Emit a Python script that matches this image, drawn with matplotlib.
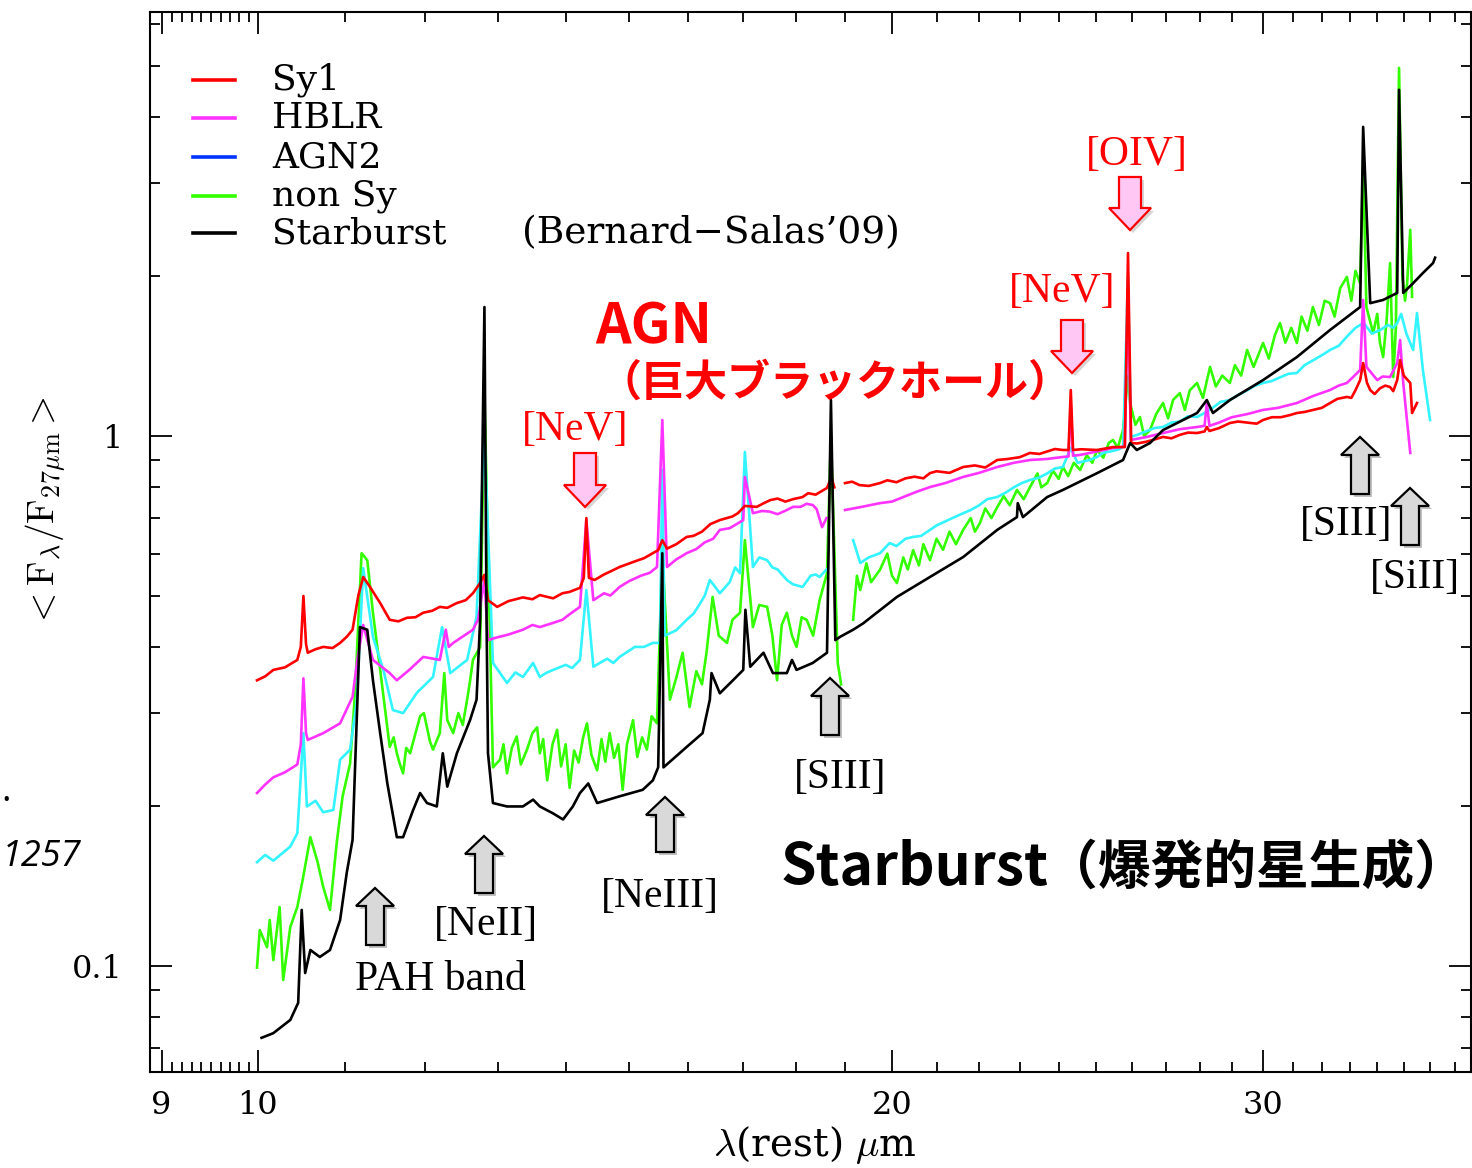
import numpy as np
import matplotlib
matplotlib.use("Agg")
import matplotlib.pyplot as plt
from matplotlib.lines import Line2D
from matplotlib.patches import Polygon
from matplotlib.ticker import FixedLocator, FixedFormatter, NullFormatter

plt.rcParams['mathtext.fontset'] = 'cm'

# ---------------- data (wavelength in micron, <F_lambda/F_27um>) ----------------
nan = float('nan')

sy1 = [(9.99, 0.346), (10.08, 0.352), (10.17, 0.362), (10.30, 0.366), (10.44, 0.378), (10.48, 0.400),
       (10.51, 0.499), (10.54, 0.405), (10.56, 0.390), (10.65, 0.396), (10.74, 0.400), (10.85, 0.398),
       (10.94, 0.407), (11.02, 0.418), (11.09, 0.431), (11.16, 0.500), (11.22, 0.542), (11.30, 0.520),
       (11.43, 0.484), (11.55, 0.450), (11.66, 0.447), (11.77, 0.454), (11.88, 0.455), (11.98, 0.464),
       (12.10, 0.468), (12.20, 0.476), (12.30, 0.474), (12.43, 0.484), (12.55, 0.490), (12.65, 0.505),
       (12.75, 0.528), (12.81, 0.547), (12.86, 0.490), (12.99, 0.476), (13.15, 0.488), (13.36, 0.496),
       (13.50, 0.492), (13.61, 0.501), (13.81, 0.494), (13.95, 0.505), (14.06, 0.508), (14.22, 0.517),
       (14.28, 0.540), (14.32, 0.700), (14.36, 0.540), (14.45, 0.535), (14.60, 0.548), (14.70, 0.555),
       (14.85, 0.566), (15.10, 0.580), (15.25, 0.588), (15.40, 0.601), (15.49, 0.609), (15.56, 0.636),
       (15.64, 0.613), (15.80, 0.625), (15.98, 0.645), (16.10, 0.648), (16.25, 0.660), (16.40, 0.682),
       (16.57, 0.694), (16.80, 0.705), (16.90, 0.715), (17.03, 0.738), (17.25, 0.735), (17.40, 0.748),
       (17.51, 0.757), (17.65, 0.762), (17.80, 0.752), (17.95, 0.760), (18.14, 0.767), (18.25, 0.780),
       (18.40, 0.775), (18.50, 0.785), (18.63, 0.798), (18.72, 0.836), (18.78, 0.800), (18.88, nan),
       (19.00, 0.815), (19.15, 0.820), (19.30, 0.808), (19.50, 0.805), (19.74, 0.815), (19.90, 0.825),
       (20.10, 0.818), (20.30, 0.832), (20.50, 0.838), (20.70, 0.832), (20.85, 0.851), (21.00, 0.858),
       (21.30, 0.852), (21.62, 0.874), (21.90, 0.880), (22.15, 0.872), (22.44, 0.901), (22.70, 0.905),
       (23.00, 0.912), (23.26, 0.929), (23.50, 0.925), (23.70, 0.935), (23.90, 0.945), (24.11, 0.941),
       (24.26, 0.941), (24.32, 1.221), (24.38, 0.941), (24.60, 0.944), (25.03, 0.941), (25.47, 0.953),
       (25.80, 0.953), (25.89, 2.214), (25.98, 0.970), (26.15, 0.968), (26.40, 0.975), (26.65, 0.985),
       (26.90, 0.996), (27.15, 0.990), (27.40, 1.005), (27.65, 1.015), (27.92, 1.013), (28.15, 1.020),
       (28.22, 1.040), (28.30, 1.022), (28.60, 1.035), (28.94, 1.058), (29.20, 1.065), (29.50, 1.060),
       (29.80, 1.055), (30.01, 1.072), (30.30, 1.085), (30.60, 1.085), (30.90, 1.095), (31.14, 1.105),
       (31.40, 1.110), (31.70, 1.120), (32.00, 1.130), (32.29, 1.154), (32.55, 1.175), (32.89, 1.185),
       (33.05, 1.180), (33.20, 1.220), (33.37, 1.275), (33.48, 1.373), (33.62, 1.260), (33.74, 1.221),
       (33.90, 1.200), (34.10, 1.230), (34.30, 1.245), (34.48, 1.237), (34.60, 1.215), (34.75, 1.275),
       (34.86, 1.390), (35.00, 1.300), (35.25, 1.259), (35.32, 1.105), (35.51, 1.154)]

hblr = [(9.99, 0.212), (10.08, 0.220), (10.17, 0.227), (10.30, 0.232), (10.44, 0.240), (10.48, 0.262),
        (10.51, 0.349), (10.54, 0.275), (10.56, 0.267), (10.74, 0.275), (10.94, 0.287), (11.09, 0.322),
        (11.15, 0.380), (11.22, 0.440), (11.34, 0.378), (11.55, 0.357), (11.64, 0.346), (11.80, 0.362),
        (11.98, 0.383), (12.20, 0.378), (12.28, 0.431), (12.32, 0.400), (12.38, 0.407), (12.65, 0.431),
        (12.72, 0.450), (12.81, 0.535), (12.86, 0.412), (12.99, 0.417), (13.15, 0.422), (13.36, 0.431),
        (13.50, 0.440), (13.61, 0.436), (13.81, 0.444), (13.95, 0.450), (14.05, 0.460), (14.22, 0.476),
        (14.32, 0.694), (14.43, 0.490), (14.60, 0.505), (14.70, 0.500), (14.85, 0.519), (15.00, 0.532),
        (15.20, 0.545), (15.35, 0.552), (15.47, 0.566), (15.56, 1.072), (15.64, 0.566), (15.80, 0.585),
        (15.98, 0.601), (16.15, 0.612), (16.30, 0.630), (16.45, 0.640), (16.57, 0.665), (16.75, 0.670),
        (17.00, 0.694), (17.03, 0.837), (17.18, 0.715), (17.35, 0.722), (17.50, 0.720), (17.65, 0.712),
        (17.83, 0.725), (17.95, 0.735), (18.10, 0.735), (18.22, 0.745), (18.34, 0.741), (18.42, 0.728),
        (18.53, 0.673), (18.62, 0.700), (18.88, nan), (19.00, 0.725), (19.35, 0.735), (19.74, 0.747),
        (20.00, 0.752), (20.30, 0.770), (20.55, 0.785), (20.85, 0.801), (21.20, 0.815), (21.62, 0.837),
        (22.00, 0.852), (22.44, 0.874), (22.85, 0.890), (23.26, 0.901), (23.70, 0.905), (24.11, 0.913),
        (24.26, 0.915), (24.32, 1.150), (24.38, 0.918), (24.57, 0.921), (25.47, 0.949), (25.80, 0.955),
        (25.89, 1.910), (25.97, 0.983), (26.40, 0.995), (26.90, 1.013), (27.40, 1.030), (27.92, 1.040),
        (28.15, 1.045), (28.22, 1.154), (28.30, 1.045), (28.60, 1.060), (29.00, 1.085), (29.50, 1.100),
        (30.01, 1.120), (30.50, 1.130), (31.14, 1.154), (31.70, 1.190), (32.29, 1.221), (32.60, 1.245),
        (32.89, 1.259), (33.10, 1.290), (33.37, 1.332), (33.48, 1.806), (33.60, 1.350), (34.00, 1.275),
        (34.20, 1.295), (34.48, 1.292), (34.75, 1.373), (34.86, 1.517), (34.98, 1.259), (35.25, 0.929)]

agn2 = [(9.99, 0.157), (10.08, 0.162), (10.17, 0.158), (10.36, 0.168), (10.44, 0.178), (10.51, 0.275),
        (10.55, 0.200), (10.65, 0.205), (10.74, 0.195), (10.86, 0.197), (10.94, 0.245), (11.06, 0.256),
        (11.14, 0.314), (11.22, 0.563), (11.34, 0.418), (11.47, 0.362), (11.59, 0.304), (11.72, 0.300),
        (11.90, 0.328), (12.11, 0.351), (12.23, 0.436), (12.34, 0.357), (12.57, 0.378), (12.70, 0.456),
        (12.81, 1.000), (12.93, 0.373), (13.13, 0.342), (13.25, 0.358), (13.36, 0.351), (13.51, 0.373),
        (13.61, 0.351), (13.70, 0.357), (13.81, 0.362), (14.00, 0.370), (14.10, 0.365), (14.22, 0.378),
        (14.32, 0.512), (14.43, 0.367), (14.65, 0.380), (14.75, 0.373), (14.85, 0.383), (15.10, 0.400),
        (15.25, 0.400), (15.40, 0.407), (15.52, 0.407), (15.56, 0.863), (15.60, 0.420), (15.80, 0.430),
        (15.98, 0.450), (16.10, 0.462), (16.20, 0.480), (16.30, 0.500), (16.39, 0.535), (16.48, 0.520),
        (16.57, 0.505), (16.75, 0.530), (16.85, 0.565), (16.94, 0.551), (17.03, 0.933), (17.18, 0.566),
        (17.30, 0.590), (17.45, 0.583), (17.55, 0.565), (17.65, 0.560), (17.83, 0.535), (17.95, 0.525),
        (18.14, 0.519), (18.30, 0.545), (18.40, 0.548), (18.48, 0.542), (18.62, 0.560), (18.88, nan),
        (19.17, 0.636), (19.32, 0.576), (19.50, 0.590), (19.74, 0.601), (19.95, 0.628), (20.10, 0.620),
        (20.30, 0.640), (20.47, 0.645), (20.65, 0.648), (20.85, 0.665), (21.00, 0.678), (21.20, 0.690),
        (21.40, 0.702), (21.62, 0.715), (21.80, 0.725), (22.00, 0.740), (22.20, 0.760), (22.44, 0.767),
        (22.65, 0.782), (22.85, 0.800), (23.05, 0.815), (23.26, 0.826), (23.50, 0.835), (23.70, 0.850),
        (23.90, 0.868), (24.11, 0.874), (24.32, 0.950), (24.50, 0.890), (24.80, 0.900), (25.03, 0.913),
        (25.20, 0.930), (25.40, 0.935), (25.60, 0.942), (25.75, 0.953), (25.89, 1.996), (25.97, 0.996),
        (26.15, 1.005), (26.40, 1.020), (26.65, 1.035), (26.90, 1.040), (27.15, 1.060), (27.40, 1.065),
        (27.65, 1.090), (27.92, 1.086), (28.15, 1.105), (28.40, 1.130), (28.65, 1.160), (28.94, 1.169),
        (29.20, 1.195), (29.50, 1.220), (29.75, 1.245), (30.01, 1.259), (30.30, 1.270), (30.57, 1.290),
        (30.85, 1.310), (31.14, 1.315), (31.40, 1.360), (31.70, 1.390), (32.00, 1.420), (32.29, 1.453),
        (32.60, 1.480), (32.89, 1.540), (33.20, 1.600), (33.50, 1.634), (33.80, 1.560), (34.11, 1.585),
        (34.40, 1.620), (34.60, 1.600), (34.75, 1.634), (34.90, 1.700), (35.10, 1.560), (35.36, 1.453),
        (35.51, 1.706), (35.74, 1.332), (36.02, 1.072)]

nonsy = [(9.99, 0.0993), (10.02, 0.1169), (10.10, 0.1085), (10.13, 0.1221), (10.17, 0.1026),
         (10.24, 0.1292), (10.28, 0.0941), (10.36, 0.1184), (10.44, 0.1292), (10.50, 0.145),
         (10.59, 0.175), (10.67, 0.158), (10.74, 0.141), (10.82, 0.1276), (10.90, 0.171), (10.97, 0.209),
         (11.06, 0.241), (11.12, 0.327), (11.20, 0.601), (11.27, 0.583), (11.34, 0.464), (11.43, 0.362),
         (11.55, 0.259), (11.60, 0.270), (11.64, 0.252), (11.68, 0.240), (11.72, 0.231), (11.76, 0.258),
         (11.81, 0.252), (11.88, 0.275), (11.94, 0.296), (11.99, 0.300), (12.03, 0.282), (12.07, 0.265),
         (12.11, 0.256), (12.20, 0.275), (12.26, 0.357), (12.30, 0.291), (12.38, 0.275), (12.45, 0.300),
         (12.51, 0.285), (12.57, 0.318), (12.61, 0.345), (12.65, 0.378), (12.75, 0.400), (12.81, 1.200),
         (12.93, 0.237), (13.03, 0.245), (13.08, 0.262), (13.13, 0.231), (13.20, 0.258), (13.27, 0.271),
         (13.33, 0.240), (13.42, 0.256), (13.50, 0.275), (13.57, 0.282), (13.61, 0.252), (13.66, 0.268),
         (13.72, 0.224), (13.80, 0.262), (13.87, 0.279), (13.93, 0.238), (14.00, 0.262), (14.06, 0.217),
         (14.13, 0.255), (14.20, 0.242), (14.27, 0.270), (14.33, 0.287), (14.40, 0.250), (14.49, 0.234),
         (14.56, 0.268), (14.62, 0.243), (14.69, 0.275), (14.76, 0.247), (14.83, 0.262), (14.90, 0.215),
         (14.97, 0.262), (15.07, 0.291), (15.14, 0.248), (15.22, 0.270), (15.30, 0.256), (15.38, 0.296),
         (15.47, 0.287), (15.56, 0.600), (15.69, 0.318), (15.80, 0.350), (15.91, 0.390), (16.03, 0.308),
         (16.15, 0.360), (16.25, 0.340), (16.33, 0.390), (16.44, 0.497), (16.55, 0.420), (16.70, 0.407),
         (16.80, 0.450), (16.94, 0.464), (17.03, 0.636), (17.18, 0.436), (17.30, 0.480), (17.45, 0.476),
         (17.55, 0.420), (17.64, 0.346), (17.73, 0.440), (17.83, 0.464), (17.93, 0.420), (18.02, 0.400),
         (18.12, 0.455), (18.22, 0.450), (18.35, 0.420), (18.48, 0.490), (18.63, 0.551), (18.71, 1.000),
         (18.85, 0.373), (18.92, 0.340), (19.05, nan), (19.17, 0.450), (19.25, 0.545), (19.32, 0.512),
         (19.45, 0.575), (19.55, 0.530), (19.74, 0.559), (19.90, 0.600), (20.00, 0.545), (20.11, 0.528),
         (20.25, 0.590), (20.35, 0.560), (20.47, 0.609), (20.60, 0.570), (20.70, 0.625), (20.85, 0.583),
         (21.00, 0.640), (21.15, 0.610), (21.30, 0.660), (21.45, 0.625), (21.62, 0.665), (21.80, 0.700),
         (21.90, 0.660), (22.02, 0.685), (22.15, 0.730), (22.30, 0.700), (22.44, 0.734), (22.60, 0.770),
         (22.75, 0.740), (22.93, 0.791), (23.10, 0.760), (23.26, 0.801), (23.45, 0.850), (23.55, 0.800),
         (23.70, 0.815), (23.85, 0.860), (24.00, 0.830), (24.11, 0.874), (24.25, 0.840), (24.40, 0.890),
         (24.57, 0.863), (24.75, 0.920), (24.90, 0.890), (25.03, 0.941), (25.20, 0.910), (25.35, 0.970),
         (25.47, 0.983), (25.60, 0.950), (25.75, 1.026), (25.89, 1.300), (25.95, 1.154), (26.10, 1.050),
         (26.23, 1.086), (26.35, 1.000), (26.52, 1.026), (26.70, 1.100), (26.90, 1.154), (27.05, 1.080),
         (27.20, 1.170), (27.40, 1.205), (27.55, 1.120), (27.70, 1.220), (27.92, 1.259), (28.10, 1.180),
         (28.32, 1.350), (28.50, 1.240), (28.70, 1.300), (28.94, 1.259), (29.10, 1.360), (29.30, 1.300),
         (29.49, 1.453), (29.70, 1.350), (29.85, 1.420), (30.01, 1.498), (30.20, 1.400), (30.40, 1.550),
         (30.57, 1.634), (30.75, 1.500), (30.95, 1.600), (31.14, 1.498), (31.30, 1.680), (31.50, 1.580),
         (31.69, 1.751), (31.90, 1.620), (32.10, 1.800), (32.29, 1.781), (32.45, 1.680), (32.65, 1.900),
         (32.89, 1.996), (33.05, 1.800), (33.20, 2.050), (33.37, 1.942), (33.48, 3.300), (33.60, 1.750),
         (33.85, 1.564), (34.00, 1.700), (34.10, 1.500), (34.22, 1.409), (34.35, 1.650), (34.48, 2.120),
         (34.60, 1.292), (34.70, 1.600), (34.82, 4.950), (34.95, 2.000), (35.05, 1.800), (35.13, 1.942),
         (35.25, 2.450), (35.32, 1.830)]

starburst = [(10.04, 0.0732), (10.17, 0.0747), (10.36, 0.0791), (10.45, 0.0852), (10.49, 0.1276),
             (10.53, 0.0970), (10.59, 0.1072), (10.70, 0.1040), (10.82, 0.1072), (10.94, 0.1221),
             (11.02, 0.150), (11.09, 0.173), (11.18, 0.436), (11.27, 0.431), (11.34, 0.346), (11.43, 0.275),
             (11.52, 0.221), (11.64, 0.175), (11.72, 0.175), (11.85, 0.197), (11.94, 0.212), (12.03, 0.203),
             (12.16, 0.200), (12.24, 0.252), (12.30, 0.218), (12.43, 0.252), (12.61, 0.291), (12.70, 0.318),
             (12.75, 0.450), (12.81, 1.751), (12.84, 0.450), (12.86, 0.252), (12.93, 0.203), (13.13, 0.200),
             (13.36, 0.200), (13.51, 0.206), (13.61, 0.200), (13.81, 0.194), (13.96, 0.189), (14.11, 0.200),
             (14.22, 0.212), (14.35, 0.221), (14.49, 0.203), (14.85, 0.209), (15.23, 0.215), (15.40, 0.224),
             (15.49, 0.237), (15.56, 0.601), (15.58, 0.237), (15.98, 0.259), (16.26, 0.275), (16.39, 0.318),
             (16.42, 0.357), (16.57, 0.327), (16.81, 0.346), (17.00, 0.362), (17.04, 0.470), (17.13, 0.367),
             (17.38, 0.390), (17.56, 0.357), (17.83, 0.357), (17.93, 0.378), (18.02, 0.362), (18.34, 0.373),
             (18.63, 0.390), (18.71, 1.169), (18.80, 0.412), (18.90, 0.418), (19.17, 0.431), (19.38, 0.443),
             (20.11, 0.497), (20.85, 0.542), (21.62, 0.591), (22.44, 0.665), (22.93, 0.703), (22.95, 0.747),
             (23.08, 0.703), (23.70, 0.767), (24.11, 0.791), (25.03, 0.851), (25.75, 0.901), (25.95, 0.970),
             (26.14, 0.941), (26.52, 0.970), (26.90, 1.026), (27.92, 1.105), (28.22, 1.169), (28.41, 1.105),
             (28.94, 1.169), (30.01, 1.275), (31.14, 1.409), (32.29, 1.585), (33.37, 1.751), (33.48, 3.830),
             (33.74, 1.781), (34.22, 1.806), (34.75, 1.862), (34.82, 4.500), (34.98, 1.862), (35.36, 1.942),
             (35.74, 2.030), (36.14, 2.120), (36.22, 2.170)]

legend_labels = ["Sy1", "HBLR", "AGN2", "non Sy", "Starburst"]
legend_colors = ["#ff0000", "#ff33ff", "#0033ff", "#33ff00", "#000000"]
x_major = [9, 10, 20, 30]
x_major_labels = ["9", "10", "20", "30"]
x_minor = [9.1, 9.2, 9.3, 9.4, 9.5, 9.6, 9.7, 9.8, 9.9] + [11, 12, 13, 14, 15, 16, 17, 18, 19] + \
          [21, 22, 23, 24, 25, 26, 27, 28, 29] + [31, 32, 33, 34, 35, 36, 37]
y_major = [0.1, 1]
y_major_labels = ["0.1", "1"]
y_minor = [0.07, 0.08, 0.09, 0.2, 0.3, 0.4, 0.5, 0.6, 0.7, 0.8, 0.9, 2, 3, 4, 5, 6]

# ---------------- figure ----------------
W, H = 1472, 1168
fig = plt.figure(figsize=(W / 100, H / 100), dpi=100)
ax = fig.add_axes([150 / W, 1 - 1072 / H, 1321 / W, 1060 / H])
ax.set_xscale('log')
ax.set_yscale('log')
ax.set_xlim(8.887, 37.67)
ax.set_ylim(10 ** -1.2, 10 ** 0.8)


def unzip(s):
    a = np.array(s, dtype=float)
    a = a[np.argsort(a[:, 0], kind='stable')]
    return a[:, 0], a[:, 1]


lw = 1.9
for data, col in [(nonsy, "#33ff00"), (agn2, "#33f4ff"), (hblr, "#ff33ff"), (sy1, "#ff0000"),
                  (starburst, "#000000")]:
    x, y = unzip(data)
    ax.plot(x, y, color=col, lw=lw, solid_joinstyle='round')

ax.xaxis.set_major_locator(FixedLocator(x_major))
ax.xaxis.set_major_formatter(FixedFormatter(x_major_labels))
ax.xaxis.set_minor_locator(FixedLocator(x_minor))
ax.xaxis.set_minor_formatter(NullFormatter())
ax.yaxis.set_major_locator(FixedLocator(y_major))
ax.yaxis.set_major_formatter(FixedFormatter(y_major_labels))
ax.yaxis.set_minor_locator(FixedLocator(y_minor))
ax.yaxis.set_minor_formatter(NullFormatter())

ax.tick_params(which='both', direction='in', top=True, right=True, width=1.3, color='black')
ax.tick_params(which='major', length=15.5)
ax.tick_params(which='minor', length=7.5)
ax.tick_params(axis='x', which='major', pad=13, labelsize=23)
ax.tick_params(axis='y', which='major', pad=20, labelsize=23)
for lab in ax.get_xticklabels() + ax.get_yticklabels():
    lab.set_fontfamily('DejaVu Serif')
for sp in ax.spines.values():
    sp.set_linewidth(1.5)


def P(px, py):
    return (px / W, 1 - py / H)


# axis labels
fig.text(*P(815, 1145), r"$\lambda$(rest) $\mu$m", fontsize=28, ha='center', va='center',
         family='DejaVu Serif')
fig.text(*P(45, 512), r"${<}\mathrm{F}_{\lambda}/\mathrm{F}_{27\mu\mathrm{m}}{>}$", fontsize=27,
         rotation=90, ha='center', va='center')

# legend (manual)
rows = [80, 118, 157, 196, 233]
for yy, lab, col in zip(rows, legend_labels, legend_colors):
    fig.add_artist(Line2D([193 / W, 235 / W], [1 - yy / H, 1 - yy / H], color=col, lw=2.6,
                          transform=fig.transFigure))
    fig.text(*P(272, yy), lab, fontsize=26, ha='left', va='center', family='DejaVu Serif')
fig.text(*P(522, 233), "(Bernard\u2212Salas\u201909)", fontsize=27, ha='left', va='center',
         family='DejaVu Serif')


# arrows
def down_arrow(cx, top, tip):
    L, hs, hh = 22, 11, 21
    pts = [(cx - hs, top), (cx + hs, top), (cx + hs, tip - L), (cx + hh, tip - L), (cx, tip),
           (cx - hh, tip - L), (cx - hs, tip - L)]
    sh = Polygon([P(x + 3, y + 3) for x, y in pts], closed=True, transform=fig.transFigure,
                 facecolor='#bbbbbb', edgecolor='none', alpha=0.6)
    fig.add_artist(sh)
    fig.add_artist(Polygon([P(x, y) for x, y in pts], closed=True, transform=fig.transFigure,
                           facecolor='#ffc8f4', edgecolor='#ff0000', lw=1.6))


def up_arrow(cx, tip, bottom):
    L, hs, hh = 18, 9, 19
    pts = [(cx - hs, bottom), (cx + hs, bottom), (cx + hs, tip + L), (cx + hh, tip + L), (cx, tip),
           (cx - hh, tip + L), (cx - hs, tip + L)]
    sh = Polygon([P(x + 3, y + 3) for x, y in pts], closed=True, transform=fig.transFigure,
                 facecolor='#999999', edgecolor='none', alpha=0.6)
    fig.add_artist(sh)
    fig.add_artist(Polygon([P(x, y) for x, y in pts], closed=True, transform=fig.transFigure,
                           facecolor='#d9d9d9', edgecolor='#000000', lw=1.6))


down_arrow(585, 453, 507)
down_arrow(1072, 320, 373)
down_arrow(1130, 177, 230)
for cx, tip, bot in [(375, 888, 945), (484, 836, 893), (665, 797, 852), (830, 678, 735),
                     (1360, 437, 494), (1410, 488, 545)]:
    up_arrow(cx, tip, bot)

# line labels
serif = 'Liberation Serif'
for txt, px, py, col in [("[NeV]", 575, 430, 'red'), ("[NeV]", 1062, 292, 'red'),
                         ("[OIV]", 1137, 155, 'red'), ("PAH band", 440, 980, 'black'),
                         ("[NeII]", 486, 925, 'black'), ("[NeIII]", 660, 897, 'black'),
                         ("[SIII]", 840, 778, 'black'), ("[SIII]", 1346, 525, 'black'),
                         ("[SiII]", 1415, 578, 'black')]:
    fig.text(*P(px, py), txt, fontsize=30, ha='center', va='center', color=col, family=serif)

cjk = ['Noto Sans CJK JP', 'DejaVu Sans']
fig.text(*P(595, 327), "AGN", fontsize=40, fontweight='bold', color='#ff0000', ha='left',
         va='center', family=cjk)
fig.text(*P(598, 383), "（巨大ブラックホール）", fontsize=31, fontweight='bold', color='#ff0000',
         ha='left', va='center', family=cjk)
fig.text(*P(781, 868), "Starburst", fontsize=41, fontweight='bold', color='black', ha='left',
         va='center', family=cjk)
fig.text(*P(1045, 868), "（爆発的星生成）", fontsize=38, fontweight='bold', color='black',
         ha='left', va='center', family=cjk)

# slide text at the left edge
fig.text(*P(2, 857), "1257", fontsize=26, style='italic', ha='left', va='center',
         family='Open Sans')
fig.text(*P(1, 792), ".", fontsize=26, ha='left', va='center', family='Open Sans')

fig.savefig("out.png", dpi=100)
